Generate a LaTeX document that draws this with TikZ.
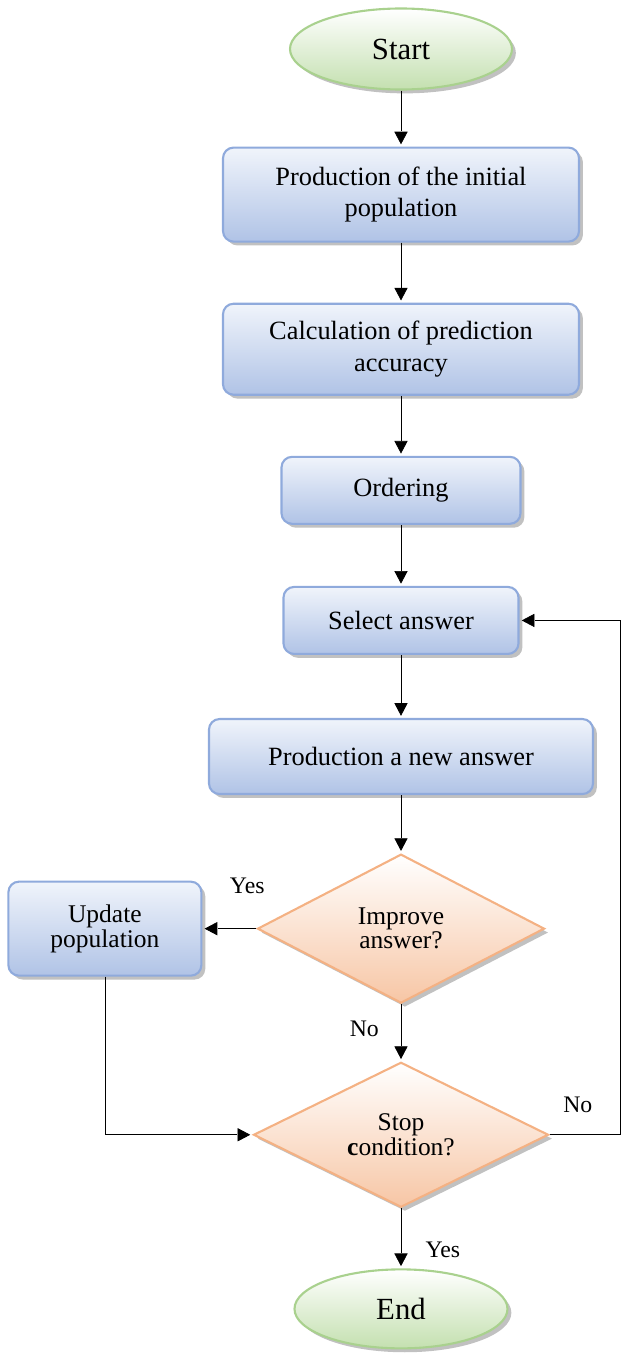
\documentclass[tikz,border=0pt]{standalone}
\usepackage{fontspec}
\setmainfont{Liberation Serif}
\usetikzlibrary{arrows.meta, shapes.geometric, shadows, positioning}

\definecolor{boxline}{RGB}{143,170,220}
\definecolor{boxtop}{RGB}{240,244,251}
\definecolor{boxbot}{RGB}{176,195,230}
\definecolor{termline}{RGB}{169,209,142}
\definecolor{termbot}{RGB}{196,224,176}
\definecolor{decline}{RGB}{244,177,131}
\definecolor{decbot}{RGB}{247,198,165}

\begin{document}
\begin{tikzpicture}
				\tikzset {>={Triangle[length=9pt, width=9pt]}, line width=1.5pt, node distance=1.2cm,
					softshadow/.style={drop shadow={shadow xshift=2.2pt, shadow yshift=-2.2pt, opacity=0.35, fill=black!70}},
					process/.style={rectangle, rounded corners=6pt, draw=boxline, line width=1.2pt, top color=boxtop, bottom color=boxbot, softshadow, align=center, font=\fontsize{15}{18}\selectfont},
					decision/.style={diamond, aspect=2, inner sep=1pt, draw=decline, line width=1.2pt, top color=white, bottom color=decbot, softshadow, align=center, font=\fontsize{14.5}{12.5}\selectfont},
					terminal/.style={ellipse, draw=termline, line width=1.2pt, top color=white, bottom color=termbot, softshadow, font=\fontsize{17.5}{20}\selectfont},
					branch/.style={font=\fontsize{13.5}{16}\selectfont} }
					\useasboundingbox (-8.02,0.98) rectangle (4.42,-26.18);
					
					\node[terminal, minimum width=4.44cm, minimum height=1.62cm] (start) {Start};
					\node[process, below=1.12cm of start, minimum width=7.12cm, minimum height=1.88cm] (init) {Production of the initial\\population};
					\node[process, below=1.2cm of init, minimum width=7.12cm, minimum height=1.82cm] (accuracy) {Calculation of prediction\\accuracy};
					\node[process, below=1.2cm of accuracy, minimum width=4.78cm, minimum height=1.34cm] (order) {Ordering};
					\node[process, below=1.22cm of order, minimum width=4.7cm, minimum height=1.34cm] (select) {Select answer};
					\node[process, below=1.26cm of select, minimum width=7.68cm, minimum height=1.5cm] (newans) {Production a new answer};
					\node[decision, below=1.16cm of newans, minimum width=5.74cm, minimum height=2.98cm] (improve) {Improve\\answer?};
					\node[process, left=1.08cm of improve, minimum width=3.86cm, minimum height=1.88cm, font=\fontsize{14.5}{12.5}\selectfont] (update) {Update\\population};
					\node[decision, below=1.14cm of improve, minimum width=5.9cm, minimum height=2.9cm] (stop) {Stop\\\textbf{c}ondition?};
					\node[terminal, below=1.2cm of stop, minimum width=4.26cm, minimum height=1.58cm] (end) {End};
					\coordinate[right=1.41cm of stop.east] (back);
					
					\draw[->] (start) -- (init);
					\draw[->] (init) -- (accuracy);
					\draw[->] (accuracy) -- (order);
					\draw[->] (order) -- (select);
					\draw[->] (select) -- (newans);
					\draw[->] (newans) -- (improve);
					\draw[->] (improve) -- node[branch, pos=0.17, above=0.55cm] (yes1) {Yes} (update);
					\draw[->] (improve) -- node[branch, pos=0.44, left=0.3cm] (no1) {No} (stop);
					\draw[->] (update) |- (stop);
					\draw[->] (stop) -- node[branch, pos=0.4, above=0.3cm] (no2) {No} (back) |- (select);
					\draw[->] (stop) -- node[branch, pos=0.7, right=0.35cm] (yes2) {Yes} (end);
			\end{tikzpicture}
\end{document}
